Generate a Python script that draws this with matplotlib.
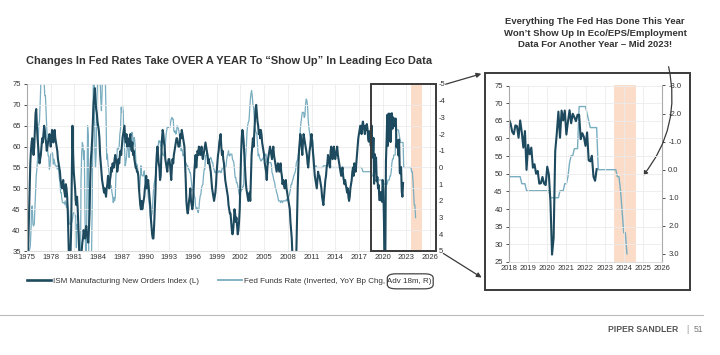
import numpy as np
import matplotlib.pyplot as plt
from matplotlib.patches import Rectangle, FancyBboxPatch, FancyArrowPatch

plt.rcParams['font.family'] = ['Liberation Sans', 'DejaVu Sans']
plt.rcParams['axes.unicode_minus'] = False

# ISM Manufacturing New Orders, monthly from Jan 1975 to Aug 2022
ism = [
    34, 32, 37, 43, 50, 56, 59, 61, 62, 60, 58, 60,   # 1975
    64, 68, 69, 65, 62, 60, 58, 56, 57, 58, 60, 62,   # 1976
    61, 63, 65, 64, 62, 61, 59, 60, 61, 62, 63, 62,   # 1977
    60, 62, 64, 63, 61, 62, 64, 62, 61, 60, 59, 57,   # 1978
    56, 55, 54, 52, 51, 50, 51, 52, 50, 49, 48, 51,   # 1979
    50, 48, 44, 38, 31, 30, 34, 40, 52, 65, 58, 54,   # 1980
    52, 50, 47, 46, 48, 45, 41, 36, 33, 31, 33, 35,   # 1981
    37, 38, 40, 39, 38, 40, 41, 39, 38, 37, 40, 44,   # 1982
    52, 57, 59, 62, 66, 70, 72, 74, 71, 69, 68, 66,   # 1983
    65, 64, 62, 58, 56, 54, 52, 51, 50, 49, 50, 49,   # 1984
    48, 50, 51, 53, 51, 50, 52, 53, 55, 54, 56, 55,   # 1985
    55, 57, 58, 57, 56, 54, 55, 57, 56, 58, 59, 58,   # 1986
    60, 62, 63, 64, 65, 62, 61, 63, 60, 62, 61, 60,   # 1987
    62, 63, 60, 59, 61, 58, 59, 57, 56, 55, 55, 54,   # 1988
    54, 53, 50, 48, 46, 45, 47, 45, 46, 47, 48, 50,   # 1989
    51, 53, 50, 51, 52, 50, 48, 46, 43, 41, 39, 38,   # 1990
    38, 41, 45, 49, 55, 58, 60, 58, 56, 55, 52, 53,   # 1991
    58, 62, 64, 63, 61, 60, 57, 56, 55, 54, 56, 57,   # 1992
    57, 56, 54, 52, 55, 57, 56, 58, 59, 60, 61, 62,   # 1993
    62, 61, 60, 60, 61, 63, 62, 64, 63, 62, 61, 60,   # 1994
    56, 52, 47, 45, 44, 45, 47, 48, 50, 47, 46, 45,   # 1995
    46, 50, 54, 56, 58, 55, 57, 59, 58, 60, 59, 58,   # 1996
    59, 60, 58, 57, 58, 59, 60, 61, 60, 59, 58, 56,   # 1997
    57, 56, 55, 54, 52, 50, 49, 48, 47, 48, 49, 51,   # 1998
    54, 56, 58, 59, 61, 62, 63, 60, 58, 59, 57, 56,   # 1999
    54, 52, 51, 50, 49, 48, 46, 45, 44, 44, 42, 40,   # 2000
    39, 40, 42, 45, 44, 42, 43, 41, 39, 40, 42, 45,   # 2001
    52, 58, 62, 64, 63, 61, 58, 55, 52, 50, 49, 48,   # 2002
    47, 48, 49, 47, 53, 58, 60, 62, 60, 63, 66, 69,   # 2003
    70, 68, 66, 65, 63, 64, 62, 64, 63, 61, 60, 59,   # 2004
    58, 56, 55, 54, 52, 55, 57, 58, 59, 60, 59, 58,   # 2005
    57, 59, 60, 58, 57, 56, 55, 54, 55, 56, 55, 54,   # 2006
    55, 56, 54, 53, 51, 52, 51, 50, 51, 52, 50, 49,   # 2007
    48, 47, 46, 45, 42, 40, 38, 34, 32, 30, 28, 26,   # 2008
    30, 35, 43, 50, 55, 59, 61, 63, 62, 60, 58, 61,   # 2009
    63, 62, 61, 60, 59, 58, 56, 55, 57, 59, 60, 62,   # 2010
    63, 61, 59, 57, 55, 53, 52, 51, 50, 52, 54, 53,   # 2011
    53, 52, 51, 50, 48, 47, 46, 48, 50, 52, 53, 55,   # 2012
    56, 58, 57, 56, 55, 59, 60, 58, 57, 59, 60, 58,   # 2013
    57, 58, 59, 60, 58, 57, 56, 55, 54, 53, 54, 55,   # 2014
    53, 52, 51, 52, 51, 50, 49, 50, 48, 47, 48, 50,   # 2015
    51, 52, 54, 55, 53, 56, 55, 54, 56, 58, 60, 62,   # 2016
    63, 64, 65, 64, 63, 65, 66, 65, 64, 63, 65, 64,   # 2017
    65.4, 64.2, 61.9, 61.2, 63.7, 63.5, 60.2, 65.1, 61.8, 57.4, 62.1, 51.1,  # 2018
    58.2, 55.5, 57.4, 51.7, 52.7, 50.0, 50.8, 47.2, 47.3, 49.1, 47.2, 46.8,  # 2019
    52.0, 49.8, 42.2, 27.1, 31.8, 56.4, 61.5, 67.6, 60.2, 67.9, 65.1, 67.9,  # 2020
    61.1, 64.8, 68.0, 64.3, 67.0, 66.0, 64.9, 66.7, 66.7, 59.8, 61.5, 60.4,  # 2021
    57.9, 61.7, 53.8, 53.5, 55.1, 49.2, 48.0, 51.3,                          # 2022
]
ism_start = 1975.0

# Fed funds rate, YoY change (pct pts), monthly from Jul 1973 to Sep 2022
fed_yoy = [
    5.8, 5.7, 5.9, 5.0, 4.9, 4.7,                                   # 1973 H2
    3.8, 2.4, 2.3, 3.4, 3.5, 3.4, 2.5, 1.5, 0.5, 0.1, -0.5, -1.5,   # 1974
    -2.6, -2.8, -3.9, -5.0, -6.1, -6.3, -6.8, -5.9, -5.1, -4.3, -4.3, -3.3,  # 1975
    -2.2, -1.4, -0.7, -0.7, 0.1, -0.1, -0.8, -0.8, -0.9, -0.8, -0.2, -0.5,   # 1976
    -0.3, -0.1, -0.1, -0.1, 0.1, -0.1, 0.1, 0.6, 0.8, 1.5, 1.5, 1.9,         # 1977
    2.1, 2.1, 2.1, 2.2, 2.0, 2.2, 2.4, 2.1, 2.4, 2.5, 3.3, 3.4,              # 1978
    3.4, 3.3, 3.3, 3.1, 2.8, 2.7, 2.7, 2.9, 2.9, 4.8, 3.4, 3.8,              # 1979
    3.7, 4.0, 7.1, 7.6, 0.8, -0.8, -1.5, -1.3, -0.5, -1.0, 2.7, 5.1,         # 1980
    5.3, 1.8, -2.5, -1.9, 7.5, 9.6, 10.0, 8.2, 5.0, 2.3, -2.6, -6.5,         # 1981
    -5.9, -1.1, 0.0, -0.8, -4.0, -4.9, -6.4, -7.7, -5.6, -5.4, -4.1, -3.4,   # 1982
    -4.5, -6.3, -5.9, -6.1, -5.9, -5.2, -3.2, -0.5, -0.8, -0.2, 0.1, 0.5,    # 1983
    0.9, 1.1, 1.1, 1.5, 1.7, 2.1, 1.8, 2.0, 1.8, 0.5, 0.1, -1.1,             # 1984
    -1.2, -1.1, -1.3, -2.0, -2.3, -3.6, -3.3, -3.7, -3.4, -2.0, -1.3, -0.1,  # 1985
    -0.3, -0.6, -1.1, -1.3, -1.1, -0.6, -1.3, -1.7, -2.0, -2.1, -2.1, -1.4,  # 1986
    -1.7, -1.8, -1.4, -0.6, 0.0, -0.2, 0.0, 0.5, 1.3, 1.4, 0.7, -0.1,        # 1987
    0.4, 0.5, 0.5, 0.5, 0.2, 0.8, 1.2, 1.3, 1.0, 1.0, 1.7, 2.0,              # 1988
    2.3, 2.8, 3.3, 2.9, 2.7, 2.0, 1.4, 1.0, 0.8, 0.5, 0.2, -0.3,             # 1989
    -0.9, -1.2, -1.6, -1.5, -1.6, -1.2, -1.0, -0.9, -0.8, -0.7, -0.8, -1.2,  # 1990
    -1.3, -1.9, -2.2, -2.4, -2.4, -2.4, -2.4, -2.4, -2.7, -2.9, -3.0, -2.9,  # 1991
    -2.9, -2.2, -2.1, -2.2, -2.0, -2.1, -2.5, -2.4, -2.3, -2.1, -1.7, -1.5,  # 1992
    -1.0, -1.1, -1.0, -0.7, -0.8, -0.8, -0.3, -0.3, -0.2, -0.1, -0.1, 0.1,   # 1993
    0.1, 0.3, 0.3, 0.6, 1.0, 1.3, 1.3, 1.5, 1.7, 1.8, 2.3, 2.5,              # 1994
    2.4, 2.6, 2.7, 2.5, 2.0, 1.7, 1.6, 1.2, 1.1, 1.0, 0.5, 0.1,              # 1995
    0.1, -0.7, -0.7, -0.9, -0.8, -0.7, -0.5, -0.5, -0.5, -0.6, -0.5, -0.3,   # 1996
    -0.3, 0.0, 0.1, 0.3, 0.3, 0.3, 0.1, 0.3, 0.2, 0.3, 0.2, 0.2,             # 1997
    0.3, 0.3, 0.1, 0.0, 0.0, 0.0, 0.0, 0.0, 0.0, -0.4, -0.7, -0.8,           # 1998
    -1.0, -0.7, -0.7, -0.8, -0.8, -0.8, -0.5, -0.4, -0.3, 0.1, 0.6, 0.6,     # 1999
    0.9, 0.9, 1.1, 1.3, 1.6, 1.7, 1.5, 1.4, 1.3, 1.3, 1.1, 1.1,              # 2000
    -0.5, -0.2, -0.6, -1.2, -2.1, -2.5, -2.7, -2.8, -3.4, -4.0, -4.4, -4.6,  # 2001
    -4.3, -3.8, -3.6, -3.0, -2.4, -2.2, -2.1, -2.0, -1.3, -0.7, -0.8, -0.6,  # 2002
    -0.5, -0.4, -0.4, -0.5, -0.5, -0.6, -0.7, -0.7, -0.8, -0.8, -0.3, -0.2,  # 2003
    -0.2, -0.3, -0.3, -0.3, -0.3, -0.2, 0.3, 0.4, 0.6, 0.8, 0.9, 1.2,        # 2004
    1.3, 1.5, 1.6, 1.8, 2.0, 2.0, 2.0, 2.1, 2.0, 2.0, 2.1, 2.0,              # 2005
    2.0, 2.0, 2.0, 2.0, 1.9, 2.0, 1.9, 1.8, 1.7, 1.5, 1.3, 1.0,              # 2006
    1.0, 0.8, 0.7, 0.5, 0.4, 0.3, 0.1, -0.3, -0.4, -0.5, -0.8, -1.0,         # 2007
    -1.4, -2.3, -2.7, -3.0, -3.3, -3.3, -3.3, -3.0, -3.1, -3.8, -4.1, -4.0,  # 2008
    -3.7, -2.8, -2.4, -2.1, -1.8, -1.8, -1.8, -1.8, -1.6, -0.8, -0.2, 0.0,   # 2009
    -0.1, -0.1, 0.0, 0.0, 0.0, 0.0, 0.0, 0.0, 0.0, 0.0, 0.0, 0.0,            # 2010
    -0.1, -0.1, -0.1, -0.1, -0.1, -0.1, -0.1, -0.1, -0.1, -0.1, -0.1, -0.1,  # 2011
    0.0, 0.0, 0.0, 0.0, 0.0, 0.0, 0.0, 0.0, 0.0, 0.0, 0.0, 0.0,              # 2012
    0.0, 0.0, 0.0, 0.0, 0.0, 0.0, 0.0, 0.0, 0.0, 0.0, 0.0, 0.0,              # 2013
    0.0, 0.0, 0.0, 0.0, 0.0, 0.0, 0.0, 0.0, 0.0, 0.0, 0.0, 0.0,              # 2014
    0.0, 0.0, 0.0, 0.0, 0.0, 0.0, 0.0, 0.0, 0.0, 0.0, 0.0, 0.1,              # 2015
    0.25, 0.25, 0.25, 0.25, 0.25, 0.25, 0.25, 0.25, 0.25, 0.25, 0.25, 0.25,  # 2016
    0.25, 0.25, 0.5, 0.5, 0.5, 0.75, 0.75, 0.75, 0.75, 0.75, 0.75, 0.75,     # 2017
    0.75, 0.75, 0.75, 0.75, 0.75, 0.75, 0.75, 0.75, 1.0, 1.0, 1.0, 1.0,      # 2018
    1.0, 1.0, 0.75, 0.75, 0.75, 0.5, 0.5, 0.25, -0.25, -0.5, -0.5, -0.75,    # 2019
    -0.75, -0.75, -2.25, -2.25, -2.25, -2.25, -2.25, -2.0, -1.75, -1.5, -1.5, -1.5,  # 2020
    -1.5, -1.5, 0.0, 0.0, 0.0, 0.0, 0.0, 0.0, 0.0, 0.0, 0.0, 0.0,            # 2021
    0.0, 0.0, 0.25, 0.25, 0.75, 1.5, 2.25, 2.25, 3.0,                        # 2022
]
fed_start = 1973.5
advance_months = 18

main_years = list(range(1975, 2027, 3))
inset_years = list(range(2018, 2027))
shade_main = (2023.6, 2025.0)
shade_inset = (2023.5, 2024.65)

title = "Changes In Fed Rates Take OVER A YEAR To \u201cShow Up\u201d In Leading Eco Data"
inset_title = ("Everything The Fed Has Done This Year\n"
               "Won\u2019t Show Up In Eco/EPS/Employment\n"
               "Data For Another Year \u2013 Mid 2023!")
ism_label = "ISM Manufacturing New Orders Index (L)"
fed_label = "Fed Funds Rate (Inverted, YoY Bp Chg, Adv 18m, R)"
boxed_part = "Adv 18m, R"

DARK = '#1d4a5e'
LIGHT = '#79adc0'
SHADE = '#fbdcc8'
GRID = '#ebebeb'
TXT = '#333333'
TICK_FS = 5.5

ism_x = ism_start + np.arange(len(ism)) / 12
fed_x = fed_start + (np.arange(len(fed_yoy)) + advance_months) / 12

W, H = 720, 355
fig = plt.figure(figsize=(W / 100, H / 100), dpi=100)


def fx(px):
    return px / W


def fy(py):
    return 1 - py / H


def style_axes(ax, right):
    ax.grid(True, color=GRID, lw=0.6)
    ax.set_axisbelow(True)
    for s in ['top', 'right']:
        ax.spines[s].set_visible(False)
    ax.spines['left'].set_color('#aaaaaa')
    ax.spines['bottom'].set_color('#dddddd')
    ax.tick_params(axis='both', labelsize=TICK_FS, colors=TXT, length=2.5, width=0.6, pad=2)
    ax.tick_params(axis='x', length=0)
    right.tick_params(labelsize=TICK_FS, colors=TXT, length=2.5, width=0.6, pad=2)
    for s in ['top', 'left', 'bottom']:
        right.spines[s].set_visible(False)


# ---- main chart
ax = fig.add_axes([fx(27), fy(251), fx(436 - 27), (251 - 84) / H])
ax2 = ax.twinx()
ax2.axvspan(*shade_main, color=SHADE, lw=0, zorder=0)
l_fed, = ax2.plot(fed_x, fed_yoy, color=LIGHT, lw=0.9)
l_ism, = ax.plot(ism_x, ism, color=DARK, lw=1.5)
ax.set_zorder(2)
ax.patch.set_visible(False)
ax2.set_zorder(1)
ax.set_xlim(1975, 2026.75)
ax.set_ylim(35, 75)
ax2.set_ylim(5, -5)
ax.set_xticks(main_years)
ax.set_yticks(range(35, 76, 5))
ax2.set_yticks(range(-5, 6))
style_axes(ax, ax2)
ax2.spines['right'].set_visible(False)
ax2.tick_params(length=0)
ax.add_patch(Rectangle((2018.5, 35), 2026.75 - 2018.5, 40, fill=False,
                       ec='#3a3a3a', lw=1.4, clip_on=False, zorder=5))

fig.text(fx(229), fy(61), title, ha='center', va='center', fontsize=7.9,
         fontweight='bold', color=TXT)

leg = fig.legend([l_ism, l_fed], [ism_label, fed_label], loc='center',
                 bbox_to_anchor=(fx(229), fy(281)), ncol=2, frameon=False,
                 fontsize=5.8, handlelength=3.0, handletextpad=0.2,
                 columnspacing=2.4, labelcolor=TXT)
for h in leg.legend_handles:
    h.set_linewidth(h.get_linewidth() + 0.4)

# rounded box around the "Adv 18m, R" part of the second legend label
fig.canvas.draw()
renderer = fig.canvas.get_renderer()
fed_text = leg.get_texts()[1]
tb = fed_text.get_window_extent(renderer)
probe = fig.text(0, 0, boxed_part, fontsize=5.8)
pw = probe.get_window_extent(renderer).width
probe.remove()
x0 = tb.x1 - pw - 2
fig.patches.append(FancyBboxPatch((x0 / W, (tb.y0 - 4) / H), (pw + 4) / W, (tb.height + 8) / H,
                                  boxstyle='round,pad=0,rounding_size=0.012',
                                  transform=fig.transFigure, fill=False,
                                  ec='#444444', lw=0.9))

# ---- inset chart
fig.patches.append(Rectangle((fx(485), fy(290)), fx(690 - 485), (290 - 73) / H,
                             transform=fig.transFigure, fill=False,
                             ec='#3a3a3a', lw=1.4))
ai = fig.add_axes([fx(509), fy(262), fx(662 - 509), (262 - 85.5) / H])
ai2 = ai.twinx()
ai2.axvspan(*shade_inset, color=SHADE, lw=0, zorder=0)
ai2.plot(fed_x, fed_yoy, color=LIGHT, lw=1.0)
ai.plot(ism_x, ism, color=DARK, lw=1.5)
ai.set_zorder(2)
ai.patch.set_visible(False)
ai2.set_zorder(1)
ai.set_xlim(2018, 2026)
ai.set_ylim(25, 75)
ai2.set_ylim(3.29, -3.0)
ai.set_xticks(inset_years)
ai.set_yticks(range(25, 76, 5))
ai2.set_yticks(np.arange(-3, 4, 1.0))
ai2.set_yticklabels([f'{v:.1f}' for v in np.arange(-3, 4, 1.0)])
style_axes(ai, ai2)
ai2.spines['right'].set_color('#aaaaaa')

fig.text(fx(595), fy(33), inset_title, ha='center', va='center', fontsize=6.8,
         fontweight='bold', color=TXT, linespacing=1.35)

# ---- arrows
arrow_kw = dict(transform=fig.transFigure, arrowstyle='-|>', mutation_scale=7,
                color='#3a3a3a', lw=0.9)
fig.patches.append(FancyArrowPatch((fx(443), fy(85)), (fx(484), fy(73)), **arrow_kw))
fig.patches.append(FancyArrowPatch((fx(441), fy(252)), (fx(484), fy(279)), **arrow_kw))
fig.patches.append(FancyArrowPatch((fx(668), fy(64)), (fx(641), fy(178)),
                                   connectionstyle='arc3,rad=-0.25', **arrow_kw))

# ---- footer
fig.add_artist(plt.Line2D([0, fx(703)], [fy(315), fy(315)], transform=fig.transFigure,
                          color='#bbbbbb', lw=0.8))
fig.text(fx(678), fy(330), "PIPER SANDLER", ha='right', va='center', fontsize=6.2,
         fontweight='bold', color='#555555')
fig.text(fx(687), fy(330), "|", ha='center', va='center', fontsize=6.2, color='#999999')
fig.text(fx(703), fy(330), "51", ha='right', va='center', fontsize=6.2, color='#777777')

fig.savefig('out.png', dpi=100)
